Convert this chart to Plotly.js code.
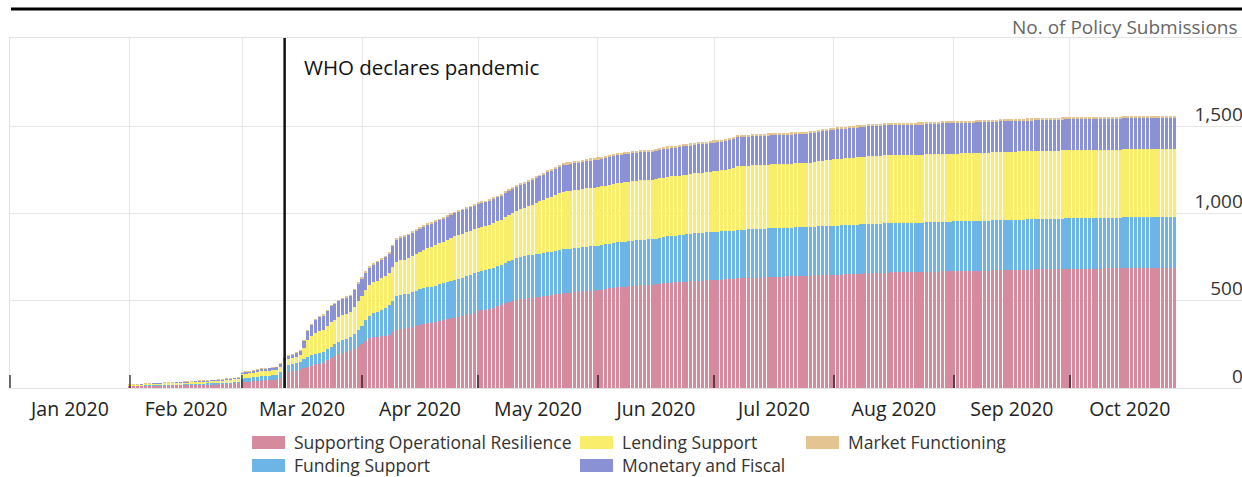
<!DOCTYPE html>
<html><head><meta charset="utf-8">
<script src="https://cdn.plot.ly/plotly-3.0.1.min.js"></script>
<style>html,body{margin:0;padding:0;background:#fff}#chart{width:1242px;height:477px}</style>
</head><body><div id="chart"></div>
<script>
// ---- data ----
const seriesNames = ['Supporting Operational Resilience', 'Funding Support', 'Lending Support', 'Monetary and Fiscal', 'Market Functioning'];
const seriesColors = ['#d68a9e', '#6cb5e6', '#f8ee6c', '#8a91d4', '#e4c592'];
const firstDate = '2020-02-01';
const monthStarts = ['2020-01-01','2020-02-01','2020-03-01','2020-04-01','2020-05-01','2020-06-01','2020-07-01','2020-08-01','2020-09-01','2020-10-01'];
const monthLabelPos = ['2020-01-16 12:00','2020-02-15 12:00','2020-03-16 12:00','2020-04-16','2020-05-16 12:00','2020-06-16','2020-07-16 12:00','2020-08-16 12:00','2020-09-16','2020-10-16 12:00'];
const yTicks = [0, 500, 1000, 1500];
const eventDate = '2020-03-12';
const eventLabel = 'WHO declares pandemic';
const yTitle = 'No. of Policy Submissions';

// cumulative submissions per day, Feb 1 - Oct 28 2020
const operationalResilience = [
 10,10,11,11,12,12,13,13,13,14, 14,15,15,16,16,16,17,18,18,19, 20,20,20,21,22,23,24,26,27,
 34,35,36,38,40,42,43,44,45,46, 60,85,92,95,98,103,112,120,128,135, 140,143,158,172,182,192,200,205,210,222, 235,
 250,268,285,290,292,296,300,305,318,332, 336,338,342,350,356,362,367,372,374,378, 383,388,394,399,403,407,412,418,425,432,
 440,444,447,452,460,468,475,485,492,498, 505,509,512,515,518,520,522,525,529,533, 537,541,545,546,547,549,551,553,555,557, 558,
 561,564,567,571,575,578,579,580,582,584, 586,588,589,589,590,593,596,599,602,604, 605,607,609,610,612,614,615,615,616,618,
 619,620,621,622,623,625,628,629,630,631, 632,632,633,634,635,636,637,638,638,639, 640,641,642,643,644,644,645,646,647,647, 648,
 649,649,650,651,652,653,654,655,656,658, 659,659,660,661,661,662,662,663,663,664, 664,664,665,665,666,666,667,667,668,668, 668,
 669,669,670,670,671,671,672,672,673,673, 674,674,675,675,676,676,677,677,677,678, 678,679,679,680,680,680,681,681,681,682,
 682,682,683,683,683,684,684,684,684,685, 685,685,685,685,686,686,686,686,686,686, 687,687,687,687,687,687,687,687
];
const fundingSupport = [
 2,2,2,2,3,3,3,3,3,4, 4,4,4,4,5,5,5,5,6,6, 6,6,6,7,7,7,7,8,8,
 20,22,23,24,25,26,26,27,27,28, 32,38,40,42,44,46,52,58,60,61, 61,62,63,65,68,72,75,78,80,88, 97,
 108,120,130,138,145,152,160,170,183,195, 197,198,199,200,202,203,204,205,206,208, 210,212,214,216,218,220,221,222,223,224,
 225,226,227,228,229,230,230,232,234,237, 240,242,243,245,246,246,247,247,248,248, 249,249,250,250,251,251,252,252,253,254, 254,
 255,255,256,256,257,258,258,259,259,260, 260,261,261,262,262,263,264,265,266,267, 268,268,269,270,271,272,274,274,275,275,
 276,276,276,277,277,277,278,278,278,278, 278,278,278,279,279,279,279,279,279,279, 279,279,279,279,279,279,280,280,280,280, 280,
 280,280,281,281,281,281,281,282,282,282, 282,282,282,283,283,283,283,283,283,283, 283,283,283,283,284,284,284,284,284,284, 284,
 285,285,285,285,285,285,286,286,286,286, 286,286,287,287,287,287,287,288,288,288, 288,288,289,289,289,289,289,289,290,290,
 290,290,290,290,290,291,291,291,291,291, 291,291,291,291,291,291,292,292,292,292, 292,292,292,292,292,292,292,292
];
const lendingSupport = [
 5,5,5,6,6,6,7,7,7,8, 8,8,9,9,9,10,10,10,11,11, 11,12,12,13,13,14,14,15,16,
 24,24,25,25,26,27,27,28,29,30, 31,32,34,35,37,40,65,95,108,118, 124,125,132,140,140,140,141,142,143,155, 165,
 168,172,175,177,178,180,182,185,190,195, 198,200,204,208,212,216,220,225,228,232, 235,238,241,244,247,250,251,252,253,254,
 254,255,255,256,257,258,259,262,265,268, 270,274,277,280,287,294,300,306,311,316, 320,325,330,331,332,333,334,335,335,336, 336,
 336,337,337,337,338,338,338,339,339,339, 339,340,340,340,340,341,341,341,342,342, 342,342,343,343,343,344,344,345,346,347,
 347,348,350,352,356,360,365,365,365,365, 365,366,366,366,366,366,366,366,367,367, 367,367,367,367,367,368,370,373,376,378, 380,
 381,382,383,384,385,386,386,387,387,388, 388,388,388,388,388,388,388,388,388,388, 388,388,388,388,388,389,389,389,389,389, 389,
 389,389,389,389,389,389,389,389,389,389, 390,390,390,390,390,390,390,390,390,390, 390,390,390,390,390,390,390,390,390,390,
 390,390,390,390,390,390,390,390,390,390, 390,390,390,390,390,390,390,390,390,390, 390,390,390,390,390,390,390,390
];
const monetaryFiscal = [
 2,2,2,2,2,3,3,3,3,3, 3,4,4,4,4,4,4,5,5,5, 5,5,5,6,6,6,6,6,6,
 9,10,10,11,11,12,12,13,13,14, 14,15,16,18,20,22,40,55,65,75, 82,85,88,90,91,92,92,93,93,96, 100,
 100,100,100,102,104,106,108,110,120,128, 129,130,130,131,131,132,132,133,133,133, 133,133,133,133,133,133,134,134,134,134,
 135,135,135,135,136,136,137,137,138,138, 138,138,139,139,140,141,143,145,147,148, 150,151,152,153,153,154,154,155,155,156, 156,
 157,157,158,158,159,160,160,160,160,161, 161,161,161,161,161,161,162,162,162,162, 162,162,163,163,163,163,163,163,163,164,
 164,164,164,164,164,165,166,166,166,166, 166,166,166,166,166,166,166,166,166,166, 166,166,166,166,166,167,167,168,168,169, 169,
 169,170,170,170,171,171,171,171,172,172, 172,172,172,172,172,172,172,172,172,172, 173,173,173,173,173,174,174,174,175,175, 175,
 175,175,175,175,175,175,175,175,175,175, 176,176,176,176,176,176,176,176,176,176, 176,176,176,176,176,177,177,177,177,177,
 177,177,177,177,177,177,177,177,177,177, 177,177,177,177,177,177,177,177,177,177, 177,177,177,177,177,177,177,177
];
const marketFunctioning = [
 3,3,3,3,3,3,3,3,3,3, 4,4,4,4,4,4,4,4,4,4, 5,5,5,5,5,5,5,5,5,
 5,5,5,5,5,5,5,5,5,5, 5,5,5,5,5,6,6,7,7,7, 8,8,8,8,8,8,8,8,8,8, 8,
 8,8,8,8,8,9,9,9,9,9, 10,10,10,10,10,10,10,10,10,10, 10,10,10,10,10,10,10,10,10,10,
 10,10,10,10,10,10,10,10,10,10, 11,11,11,11,11,11,11,11,11,11, 12,12,12,12,12,12,12,12,12,12, 12,
 12,12,12,12,12,12,12,12,12,12, 12,12,12,12,12,12,12,12,12,12, 12,12,12,12,12,12,12,12,12,12,
 12,12,12,12,12,12,12,12,12,12, 12,12,12,12,12,12,12,12,12,12, 12,12,12,12,12,12,12,12,12,12, 12,
 12,12,12,12,12,12,12,12,12,12, 12,12,12,12,12,12,12,12,12,12, 12,12,12,12,12,12,12,12,12,12, 12,
 12,12,12,12,12,12,12,12,12,12, 12,12,12,12,12,12,12,12,12,12, 12,12,12,12,12,12,12,12,12,12,
 12,12,12,12,12,12,12,12,12,12, 12,12,12,12,12,12,12,12,12,12, 12,12,12,12,12,12,12,12
];

const seriesValues = [operationalResilience, fundingSupport, lendingSupport, monetaryFiscal, marketFunctioning];
seriesValues.forEach((s, i) => { if (s.length !== 271) throw new Error(seriesNames[i] + ' length ' + s.length); });

// consecutive day categories
const dates = [];
const d0 = new Date(firstDate + 'T00:00:00Z');
for (let i = 0; i < operationalResilience.length; i++) {
  const d = new Date(d0.getTime() + i * 86400000);
  dates.push(d.toISOString().slice(0, 10));
}

// ---- chart ----
const FONT = 'Open Sans, Noto Sans, sans-serif';
const W = 1242, H = 477, ML = 10, MR = 0, MT = 38, MB = 89;
const PW = W - ML - MR, PH = H - MT - MB;
const px = x => (x - ML) / PW;
const py = y => (H - MB - y) / PH;

const traces = seriesNames.map((name, i) => ({
  type: 'bar', name: name, x: dates, y: seriesValues[i],
  marker: {color: seriesColors[i], line: {width: 0}},
  hoverinfo: 'x+y+name'
}));

// manual legend layout: [col x, row]
const legendPos = [[252, 0], [252, 1], [580, 0], [580, 1], [806, 0]];
const rowY = [442, 465];
const shapes = [
  {type: 'line', xref: 'paper', yref: 'paper', x0: px(11), x1: 1, y0: py(9), y1: py(9), line: {color: '#000', width: 3}},
  {type: 'line', xref: 'x', yref: 'paper', x0: eventDate, x1: eventDate, y0: 0, y1: 1, line: {color: '#111', width: 2.5}}
];
const annotations = [
  {xref: 'x', yref: 'paper', x: eventDate, y: py(67), xanchor: 'left', yanchor: 'middle', xshift: 17, text: eventLabel, showarrow: false, font: {family: FONT, size: 20.5, color: '#111'}},
  {xref: 'paper', yref: 'paper', x: 1, y: py(27), xanchor: 'right', yanchor: 'middle', xshift: -2, text: yTitle, showarrow: false, font: {family: FONT, size: 19, color: '#666'}}
];
seriesNames.forEach((name, i) => {
  const [cx, row] = legendPos[i];
  const cy = rowY[row];
  shapes.push({type: 'rect', xref: 'paper', yref: 'paper', x0: px(cx), x1: px(cx + 33), y0: py(cy + 7), y1: py(cy - 6), fillcolor: seriesColors[i], line: {width: 0}});
  annotations.push({xref: 'paper', yref: 'paper', x: px(cx + 40), y: py(cy), xanchor: 'left', yanchor: 'middle', text: name, showarrow: false, font: {family: FONT, size: 17.5, color: '#333'}});
});

const layout = {
  width: W, height: H,
  margin: {l: ML, r: MR, t: MT, b: MB, pad: 0},
  paper_bgcolor: '#fff', plot_bgcolor: '#fff',
  barmode: 'stack', bargap: 0.2,
  showlegend: false,
  font: {family: FONT},
  xaxis: {
    type: 'date', range: ['2020-01-01', '2020-11-14 12:00'],
    tickmode: 'array', tickvals: monthLabelPos, tickformat: '%b %Y',
    ticks: '', showgrid: false,
    ticklabelstandoff: 4,
    tickfont: {family: FONT, size: 19.5, color: '#222'},
    minor: {
      tickmode: 'array', tickvals: monthStarts,
      ticks: 'inside', ticklen: 13, tickwidth: 2, tickcolor: 'rgba(0,0,0,0.55)',
      showgrid: true, gridcolor: '#e6e6e6', gridwidth: 1
    },
    showline: true, linecolor: '#e3e3e3', linewidth: 1, mirror: true,
    zeroline: false, fixedrange: true
  },
  yaxis: {
    range: [0, 2005], side: 'right', tickmode: 'array', tickvals: yTicks,
    separatethousands: true, ticklabelposition: 'inside', ticklabelshift: -12,
    ticklabeloverflow: 'allow',
    showgrid: true, gridcolor: '#e6e6e6', gridwidth: 1,
    tickfont: {family: FONT, size: 19, color: '#333'},
    showline: true, linecolor: '#e3e3e3', linewidth: 1, mirror: true,
    zeroline: false, fixedrange: true
  },
  shapes: shapes,
  annotations: annotations
};

Plotly.newPlot('chart', traces, layout, {displayModeBar: false, staticPlot: true});
</script>
</body></html>
